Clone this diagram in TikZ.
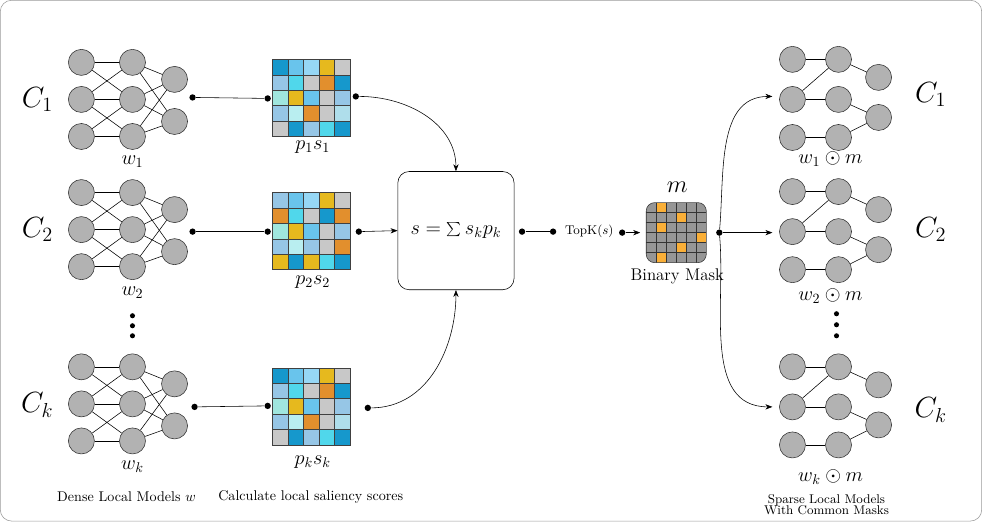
\documentclass[tikz,border=0pt]{standalone}
\usetikzlibrary{arrows.meta}
\definecolor{cD}{RGB}{22,152,204}
\definecolor{cM}{RGB}{105,196,236}
\definecolor{cS}{RGB}{150,215,245}
\definecolor{cL}{RGB}{150,198,230}
\definecolor{cC}{RGB}{80,215,235}
\definecolor{cT}{RGB}{160,230,222}
\definecolor{cP}{RGB}{185,238,240}
\definecolor{cA}{RGB}{175,222,235}
\definecolor{cY}{RGB}{230,185,30}
\definecolor{cO}{RGB}{226,143,45}
\definecolor{cG}{RGB}{200,200,200}
\definecolor{mG}{RGB}{150,150,150}
\definecolor{mO}{RGB}{250,175,55}
\tikzset{
  neuron/.style={circle,draw=black!80,fill=black!30,minimum size=0.65cm,inner sep=0pt},
  dot/.style={circle,fill=black,inner sep=0pt,minimum size=4.5pt},
  conn/.style={-{Stealth[length=5pt]},thin},
  plain/.style={thin}
}
\newcommand{\densenet}[2]{% y offset, name
  \foreach \i/\yy in {1/63,2/100,3/137}{
    \node[neuron] (#2L\i) at (82,#1+\yy) {};
    \node[neuron] (#2M\i) at (133,#1+\yy) {};
  }
  \node[neuron] (#2R1) at (175,#1+80) {};
  \node[neuron] (#2R2) at (175,#1+122) {};
  \foreach \a/\b in {1/1,1/2,2/1,2/2,2/3,3/2,3/3}
    \draw (#2L\a) -- (#2M\b);
  \foreach \a in {1,2,3}
    \foreach \b in {1,2}
      \draw (#2M\a) -- (#2R\b);
}
\newcommand{\sparsenet}[2]{% y offset, name
  \foreach \i/\yy in {1/60,2/100,3/138}{
    \node[neuron] (#2L\i) at (792,#1+\yy) {};
    \node[neuron] (#2M\i) at (838,#1+\yy) {};
  }
  \node[neuron] (#2R1) at (878,#1+78) {};
  \node[neuron] (#2R2) at (878,#1+118) {};
  \foreach \a/\b in {L1/M1,L2/M1,L2/M2,L3/M3,M1/R1,M2/R2,M3/R2}
    \draw (#2\a) -- (#2\b);
}
\newcommand{\scoregrid}[3]{% x, y, colour rows
  \foreach \row [count=\r from 0] in {#3}
    \foreach \c [count=\k from 0] in \row
      \draw[black!75,fill=\c] (#1+\k*15.4,#2+\r*15.4) rectangle ++(15.4,15.4);
}
\begin{document}
\begin{tikzpicture}[x=0.025cm,y=-0.025cm]
  \draw[black!40,rounded corners=8pt] (1,1) rectangle (981,521);

  % dense local models
  \densenet{0}{a}
  \densenet{130}{b}
  \densenet{304}{c}
  \node[font=\Large] at (133,162) {$w_1$};
  \node[font=\Large] at (133,293) {$w_2$};
  \node[font=\Large] at (133,467) {$w_k$};
  \foreach \yy in {316,326,336} \fill (133,\yy) circle (1.8pt);
  \node[font=\huge] at (38,100) {$C_1$};
  \node[font=\huge] at (38,230) {$C_2$};
  \node[font=\huge] at (38,405) {$C_k$};

  % saliency grids
  \scoregrid{273}{60}{{cD,cM,cS,cY,cG},{cL,cC,cG,cO,cD},{cT,cY,cM,cG,cL},{cL,cP,cO,cG,cA},{cG,cD,cL,cC,cD}}
  \scoregrid{273}{193}{{cL,cM,cS,cY,cG},{cO,cC,cG,cD,cO},{cT,cY,cM,cG,cL},{cL,cP,cL,cG,cO},{cY,cD,cY,cC,cD}}
  \scoregrid{273}{368}{{cD,cM,cS,cY,cG},{cL,cC,cG,cO,cD},{cT,cY,cM,cG,cL},{cL,cP,cO,cG,cA},{cG,cD,cL,cC,cD}}
  \node[font=\Large] at (313,148) {$p_1s_1$};
  \node[font=\Large] at (313,282) {$p_2s_2$};
  \node[font=\Large] at (313,462) {$p_ks_k$};

  \node[dot] (a1) at (193,98) {};  \node[dot] (a2) at (268,99) {};
  \node[dot] (b1) at (193,232) {}; \node[dot] (b2) at (268,232) {};
  \node[dot] (c1) at (195,407) {}; \node[dot] (c2) at (268,406) {};
  \draw[plain] (a1) -- (a2);
  \draw[plain] (b1) -- (b2);
  \draw[plain] (c1) -- (c2);

  % aggregation
  \node[draw,rounded corners=8pt,minimum width=2.9cm,minimum height=2.95cm,font=\Large] (sum) at (456,231) {$s=\sum s_kp_k$};
  \node[dot] (g1) at (356,97) {};
  \node[dot] (g2) at (359,232) {};
  \node[dot] (g3) at (368,408) {};
  \draw[conn] (g1) to[out=0,in=90] (sum.north);
  \draw[conn] (g2) -- (sum.west);
  \draw[conn] (g3) to[out=0,in=-90] (sum.south);

  \node[dot] (s1) at (522,232) {};
  \node[dot] (s2) at (553,232) {};
  \draw[plain] (s1) -- (s2);
  \node[font=\small,anchor=west] (topk) at (560,232) {TopK$(s)$};
  \node[dot] (t1) at (622,233) {};
  \coordinate (t2) at (640,233);
  \draw[conn] (t1) -- (t2);

  % binary mask
  \begin{scope}
    \clip[rounded corners=6pt] (646,203) rectangle (706,263);
    \fill[mG] (646,203) rectangle (706,263);
    \foreach \r/\k in {0/1,1/3,2/1,3/5,4/3,5/1}
      \fill[mO] (646+\k*10,203+\r*10) rectangle ++(10,10);
    \foreach \t in {1,...,5}{
      \draw[black!80] (646+\t*10,203) -- (646+\t*10,263);
      \draw[black!80] (646,203+\t*10) -- (706,203+\t*10);
    }
  \end{scope}
  \draw[black!80,rounded corners=6pt] (646,203) rectangle (706,263);
  \node[font=\LARGE] at (677,188) {$m$};
  \node[font=\large] at (677,277) {Binary Mask};

  \node[dot] (md) at (719,233) {};
  \coordinate (e1) at (772,97);
  \coordinate (e2) at (772,233);
  \coordinate (e3) at (772,407);
  \draw[conn] (md) to[out=85,in=180] (e1);
  \draw[conn] (md) -- (e2);
  \draw[conn] (md) to[out=-85,in=180] (e3);

  % sparse local models
  \sparsenet{0}{d}
  \sparsenet{132}{e}
  \sparsenet{307}{f}
  \node[font=\Large] at (830,160) {$w_1\odot m$};
  \node[font=\Large] at (830,296) {$w_2\odot m$};
  \node[font=\Large] at (830,477) {$w_k\odot m$};
  \foreach \yy in {314,325,336} \fill (836,\yy) circle (1.8pt);
  \node[font=\huge] at (930,95) {$C_1$};
  \node[font=\huge] at (930,230) {$C_2$};
  \node[font=\huge] at (930,410) {$C_k$};

  \node at (127,497) {Dense Local Models $w$};
  \node at (311,497) {Calculate local saliency scores};
  \node[font=\small,align=center] at (826,505) {Sparse Local Models\\[-3pt]With Common Masks};
\end{tikzpicture}
\end{document}
